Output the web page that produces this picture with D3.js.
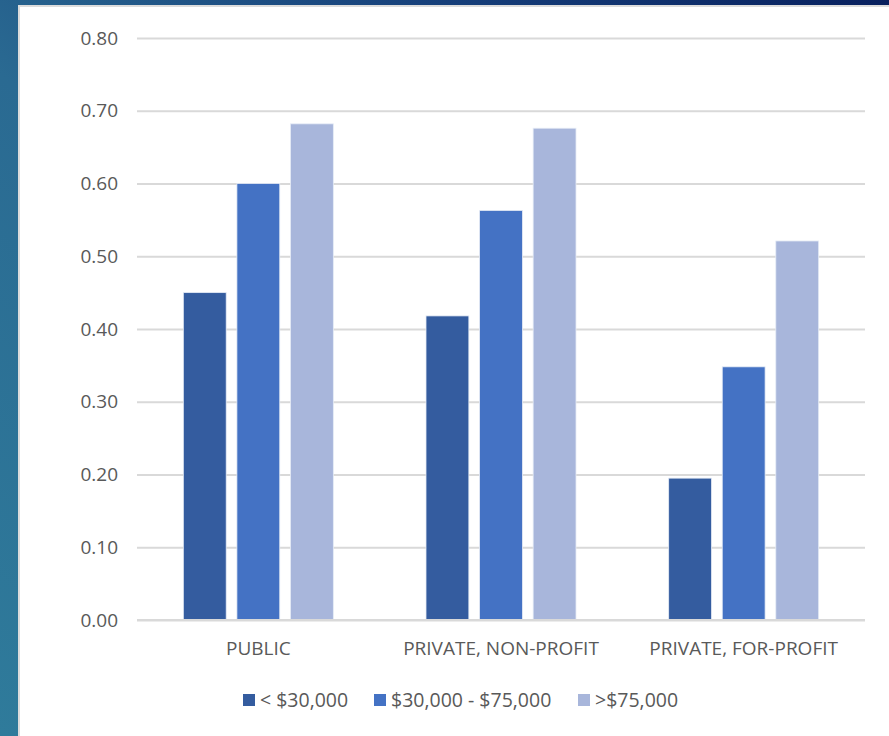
<!DOCTYPE html>
<html>
<head>
<meta charset="utf-8">
<script src="https://cdn.jsdelivr.net/npm/d3@7"></script>
<style>
  html, body { margin: 0; padding: 0; }
  body { width: 889px; height: 736px; overflow: hidden; }
  svg { display: block; }
</style>
</head>
<body>
<svg id="chart" width="889" height="736"></svg>
<script>
// Institution types along the x axis
const categories = ["PUBLIC", "PRIVATE, NON-PROFIT", "PRIVATE, FOR-PROFIT"];
// Income brackets (one bar series each)
const seriesNames = ["< $30,000", "$30,000 - $75,000", ">$75,000"];
const lowIncome = [0.45, 0.418, 0.195];
const midIncome = [0.60, 0.563, 0.348];
const highIncome = [0.682, 0.676, 0.521];
const yTicks = [0, 0.1, 0.2, 0.3, 0.4, 0.5, 0.6, 0.7, 0.8];

const seriesValues = [lowIncome, midIncome, highIncome];
const colors = ["#345c9f", "#4472c4", "#a8b6db"];

const svg = d3.select("#chart");
const W = 889, H = 736;

// Slide-style backdrop
const defs = svg.append("defs");
const bg = defs.append("linearGradient").attr("id", "bg")
  .attr("x1", "0").attr("y1", "1").attr("x2", "1").attr("y2", "0");
bg.append("stop").attr("offset", "0").attr("stop-color", "#2f7b9b");
bg.append("stop").attr("offset", "0.45").attr("stop-color", "#2a6a92");
bg.append("stop").attr("offset", "0.75").attr("stop-color", "#163f7a");
bg.append("stop").attr("offset", "1").attr("stop-color", "#08205e");
svg.append("rect").attr("width", W).attr("height", H).attr("fill", "url(#bg)");

// White chart panel
svg.append("rect").attr("x", 18).attr("y", 5).attr("width", W - 17).attr("height", H)
  .attr("fill", "#dcdcdc");
svg.append("rect").attr("x", 20).attr("y", 7).attr("width", W - 20).attr("height", H)
  .attr("fill", "#ffffff");

const plot = { left: 137, right: 865, top: 38, bottom: 620 };

const x = d3.scaleBand().domain(categories).range([plot.left, plot.right]).paddingInner(0).paddingOuter(0);
const y = d3.scaleLinear().domain([0, 0.8]).range([plot.bottom, plot.top]);
const xInner = d3.scaleBand().domain(seriesNames).range([0, 150]).paddingInner(0.2).paddingOuter(0);

const font = "'Open Sans', sans-serif";
const textColor = "#595959";

// Gridlines
const yAxis = d3.axisLeft(y).tickValues(yTicks).tickSize(-(plot.right - plot.left))
  .tickFormat(d3.format(".2f")).tickPadding(19);
const gy = svg.append("g").attr("transform", `translate(${plot.left},0)`).call(yAxis);
gy.select(".domain").remove();
gy.selectAll(".tick line").attr("stroke", "#d9d9d9").attr("stroke-width", 2);
gy.selectAll(".tick text").attr("fill", textColor).attr("font-family", font)
  .attr("font-size", 19);

// Bars
const groups = svg.append("g").selectAll("g").data(categories).join("g")
  .attr("transform", d => `translate(${x(d) + x.bandwidth() / 2 - 75},0)`);
groups.selectAll("rect")
  .data((c, i) => seriesNames.map((s, j) => ({ s, j, v: seriesValues[j][i] })))
  .join("rect")
  .attr("x", d => xInner(d.s))
  .attr("width", xInner.bandwidth())
  .attr("y", d => y(d.v))
  .attr("height", d => y(0) - y(d.v))
  .attr("fill", d => colors[d.j])
  .attr("stroke", "#e6ecf6").attr("stroke-width", 0.8);

// Baseline
svg.append("line").attr("x1", plot.left).attr("x2", plot.right)
  .attr("y1", y(0)).attr("y2", y(0)).attr("stroke", "#d9d9d9").attr("stroke-width", 2);

// Category labels
const xAxis = d3.axisBottom(x).tickSize(0).tickPadding(22);
const gx = svg.append("g").attr("transform", `translate(0,${plot.bottom})`).call(xAxis);
gx.select(".domain").remove();
gx.selectAll(".tick text").attr("fill", textColor).attr("font-family", font)
  .attr("font-size", 19);

// Legend
const legendX = [243, 374, 578];
const legend = svg.append("g").selectAll("g").data(seriesNames).join("g")
  .attr("transform", (d, i) => `translate(${legendX[i]},694)`);
legend.append("rect").attr("width", 12).attr("height", 12).attr("fill", (d, i) => colors[i]);
legend.append("text").attr("x", 17).attr("y", 6).attr("dy", "0.35em")
  .attr("fill", textColor).attr("font-family", font).attr("font-size", 19.5)
  .text(d => d);
</script>
</body>
</html>
